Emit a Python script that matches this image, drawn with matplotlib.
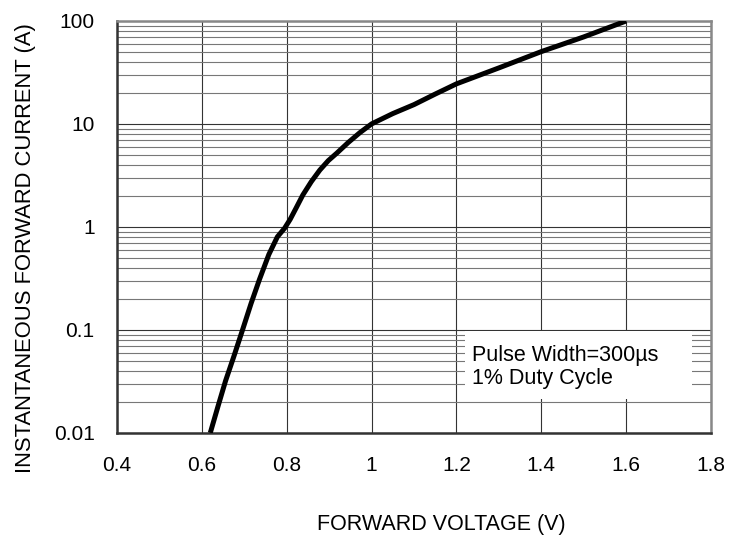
import matplotlib.pyplot as plt
from matplotlib.ticker import LogLocator, NullFormatter

plt.rcParams['font.family'] = ['Liberation Sans', 'DejaVu Sans']

# forward characteristic
forward_voltage = [0.62, 0.638, 0.656, 0.676, 0.696, 0.716, 0.736, 0.758, 0.778, 0.795,
                   0.808, 0.822, 0.838, 0.858, 0.878, 0.898, 0.918, 0.945, 0.972, 1.0,
                   1.05, 1.1, 1.15, 1.2, 1.3, 1.4, 1.5, 1.6]
forward_current = [0.01, 0.018, 0.032, 0.056, 0.1, 0.18, 0.31, 0.54, 0.80, 0.97,
                   1.18, 1.52, 2.04, 2.75, 3.56, 4.4, 5.2, 6.6, 8.2, 10,
                   12.6, 15.4, 19.5, 24.5, 35, 50.4, 70, 100]

x_ticks = [0.4, 0.6, 0.8, 1.0, 1.2, 1.4, 1.6, 1.8]
x_tick_labels = ['0.4', '0.6', '0.8', '1', '1.2', '1.4', '1.6', '1.8']
y_ticks = [0.01, 0.1, 1, 10, 100]
y_tick_labels = ['0.01', '0.1', '1', '10', '100']

note = 'Pulse Width=300µs\n1% Duty Cycle'

fig = plt.figure(figsize=(7.4, 5.37), dpi=100)
ax = fig.add_axes([0.158, 0.194, 0.803, 0.767])

ax.set_yscale('log')
ax.set_xlim(0.4, 1.8)
ax.set_ylim(0.01, 100)

ax.set_xticks(x_ticks)
ax.set_xticklabels(x_tick_labels)
ax.set_yticks(y_ticks)
ax.set_yticklabels(y_tick_labels)
ax.yaxis.set_minor_locator(LogLocator(base=10, subs=range(2, 10)))
ax.yaxis.set_minor_formatter(NullFormatter())

ax.grid(True, which='major', axis='both', color='#333333', linewidth=0.8)
ax.grid(True, which='minor', axis='y', color='#777777', linewidth=0.8)

ax.tick_params(axis='both', which='both', length=0, labelsize=15)
ax.tick_params(axis='x', pad=17)
ax.tick_params(axis='y', pad=16)

for side in ['left', 'bottom']:
    ax.spines[side].set_color('#333333')
    ax.spines[side].set_linewidth(1.8)
for side in ['top', 'right']:
    ax.spines[side].set_color('#888888')
    ax.spines[side].set_linewidth(1.8)

ax.plot(forward_voltage, forward_current, color='black', linewidth=3.6,
        solid_capstyle='butt', solid_joinstyle='round', zorder=5)

# white note box sitting on top of the grid
ax.fill_between([1.219, 1.755], 0.0212, 0.0985, color='white', zorder=3, linewidth=0)
ax.text(1.236, 0.071, note, fontsize=15.5, va='top', ha='left', linespacing=1.12, zorder=4)

fig.text(0.034, 0.538, 'INSTANTANEOUS FORWARD CURRENT (A)', rotation=90,
         ha='center', va='center', fontsize=15.8)
fig.text(0.597, 0.024, 'FORWARD VOLTAGE (V)', ha='center', va='center', fontsize=15.5)

fig.savefig('out.png', dpi=100)
